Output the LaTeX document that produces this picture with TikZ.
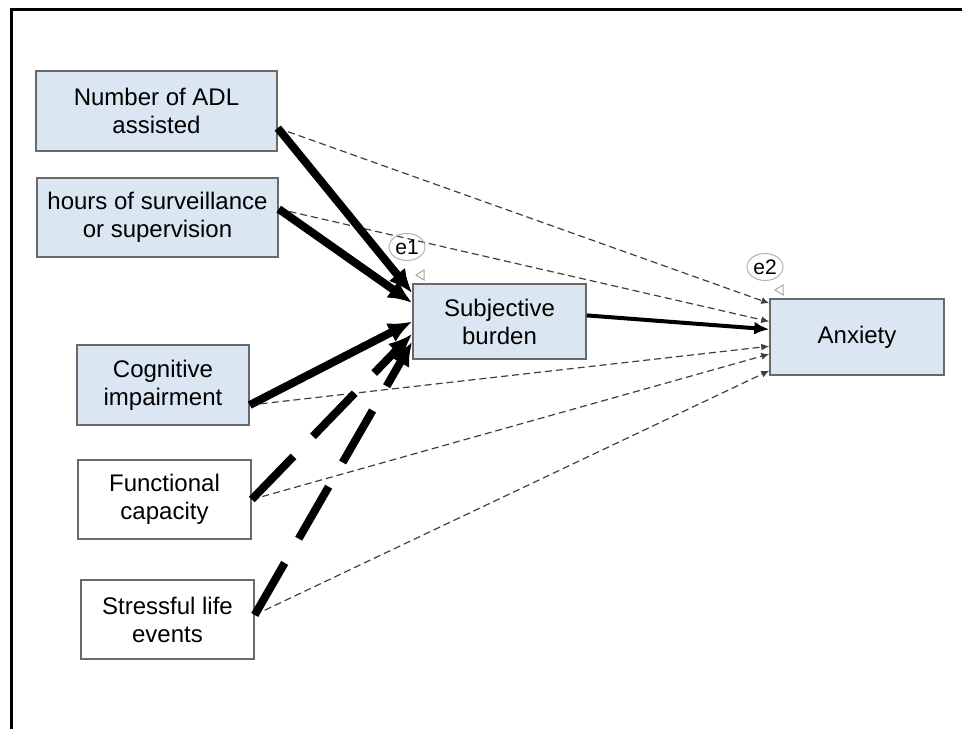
\documentclass[tikz,border=0pt]{standalone}
\usepackage{fontspec}
\setmainfont{Liberation Sans}
\usetikzlibrary{arrows.meta,shapes.geometric}
\definecolor{boxblue}{RGB}{218,230,241}
\definecolor{edgegray}{RGB}{105,105,105}

\begin{document}
\begin{tikzpicture}[x=1pt,y=-1pt,
  var/.style={rectangle,draw=edgegray,line width=1.5pt,align=center,inner sep=0pt,font=\fontsize{24}{28}\selectfont},
  obs/.style={var,fill=boxblue},
  strong/.style={line width=8pt,-{Latex[length=24pt,width=21pt]}},
  weak/.style={strong,dash pattern=on 60pt off 28pt},
  direct/.style={draw=black!75,line width=1.2pt,dash pattern=on 7pt off 4pt,-{Latex[length=8pt,width=7pt]}},
  err/.style={ellipse,draw=black!30,line width=1pt,minimum width=36pt,minimum height=27pt,inner sep=0pt,font=\fontsize{21}{24}\selectfont},
  errtip/.style={draw=black!35,line width=1pt}]
\useasboundingbox (0,0) rectangle (962,729);
\draw[line width=3pt] (11,729) -- (11,9) -- (962,9);

\node [obs,minimum width=241pt,minimum height=80pt] (adl) at (156.5,111) {Number of ADL\\assisted};
\node [obs,minimum width=241pt,minimum height=79pt] (hours) at (157.5,217.5) {hours of surveillance\\or supervision};
\node [obs,minimum width=172pt,minimum height=80pt] (cog) at (163,385) {Cognitive\\impairment};
\node [var,minimum width=173pt,minimum height=79pt] (func) at (164.5,499.5) {Functional\\capacity};
\node [var,minimum width=173pt,minimum height=79pt] (life) at (167.5,619.5) {Stressful life\\events};
\node [obs,minimum width=173pt,minimum height=75pt] (burden) at (499.5,321.5) {Subjective\\burden};
\node [obs,minimum width=174pt,minimum height=76pt] (anx) at (857,337) {Anxiety};

\draw[direct] (adl.352) -- (anx.159);
\draw[direct] (hours.4) -- (anx.170);
\draw[direct] (cog.347) -- (anx.186);
\draw[direct] (func.east) -- (anx.191);
\draw[direct] (life.3) -- (anx.201);

\draw[strong] (adl.352) -- (burden.162);
\draw[strong] (hours.4) -- (burden.168);
\draw[strong] (cog.347) -- (burden.180);
\draw[weak] (func.east) -- (burden.188);
\draw[weak] (life.3) -- (burden.193);

\draw[line width=4pt,-{Latex[length=15pt,width=13pt]}] (burden.4) -- (anx.175);

\node [err] (e1) at (407,247) {e1};
\node [err] (e2) at (765,267) {e2};
\draw[errtip] (416,275) -- (424,270) -- (424,280) -- cycle;
\draw[errtip] (775,290) -- (783,285) -- (783,295) -- cycle;
\end{tikzpicture}
\end{document}
